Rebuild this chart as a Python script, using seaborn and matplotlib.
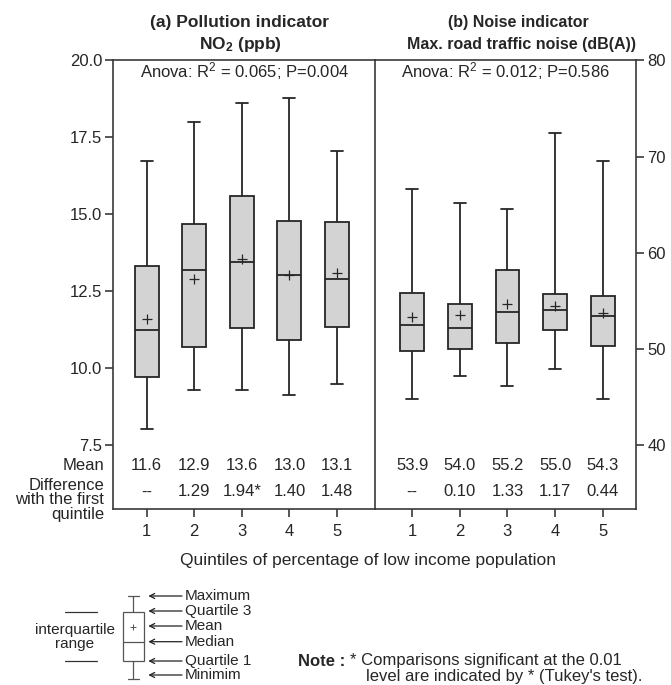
import pandas as pd
import matplotlib
matplotlib.use("Agg")
import matplotlib.pyplot as plt
import seaborn as sns

# Quintiles of percentage of low income population
quintiles = ["1", "2", "3", "4", "5"]

# (a) NO2 (ppb) - box stats
no2_min = [8.02, 9.30, 9.30, 9.14, 9.50]
no2_q1 = [9.71, 10.69, 11.29, 10.92, 11.34]
no2_med = [11.23, 13.19, 13.46, 13.03, 12.90]
no2_q3 = [13.32, 14.67, 15.58, 14.79, 14.74]
no2_max = [16.73, 17.99, 18.63, 18.78, 17.06]
no2_mean_mark = [11.61, 12.89, 13.54, 13.02, 13.10]
no2_mean_txt = ["11.6", "12.9", "13.6", "13.0", "13.1"]
no2_diff_txt = ["--", "1.29", "1.94*", "1.40", "1.48"]

# (b) Max. road traffic noise (dB(A))
noise_min = [44.76, 47.15, 46.14, 47.88, 44.76]
noise_q1 = [49.75, 49.96, 50.65, 51.97, 50.27]
noise_med = [52.45, 52.21, 53.84, 54.01, 53.46]
noise_q3 = [55.85, 54.67, 58.17, 55.75, 55.54]
noise_max = [66.66, 65.21, 64.54, 72.45, 69.57]
noise_mean_mark = [53.35, 53.49, 54.67, 54.50, 53.76]
noise_mean_txt = ["53.9", "54.0", "55.2", "55.0", "54.3"]
noise_diff_txt = ["--", "0.10", "1.33", "1.17", "0.44"]

sns.set_style("ticks")
plt.rcParams["font.family"] = ["Liberation Sans", "DejaVu Sans"]
plt.rcParams["mathtext.fontset"] = "custom"
plt.rcParams["mathtext.rm"] = "Liberation Sans"
plt.rcParams["mathtext.bf"] = "Liberation Sans:bold"
plt.rcParams["mathtext.default"] = "regular"

EDGE = "#3a3a3a"
BOXC = "#262626"
FS = 12


def box_table(mins, q1s, meds, q3s, maxs):
    # 5 points per group -> numpy percentiles hit q1/median/q3 exactly
    rows = []
    for i, q in enumerate(quintiles):
        for v in (mins[i], q1s[i], meds[i], q3s[i], maxs[i]):
            rows.append({"quintile": q, "value": v})
    return pd.DataFrame(rows)


df_no2 = box_table(no2_min, no2_q1, no2_med, no2_q3, no2_max)
df_noise = box_table(noise_min, noise_q1, noise_med, noise_q3, noise_max)

fig = plt.figure(figsize=(6.71, 6.85), dpi=100)
ax1 = fig.add_axes([0.1689, 0.2569, 0.3900, 0.6548])
ax2 = fig.add_axes([0.5589, 0.2569, 0.3890, 0.6548])
ax2.patch.set_visible(False)

panels = [
    (ax1, df_no2, no2_mean_mark, no2_mean_txt, no2_diff_txt, (5.42, 20.0), (-0.70, 4.80)),
    (ax2, df_noise, noise_mean_mark, noise_mean_txt, noise_diff_txt, (33.34, 80.0), (-0.78, 4.70)),
]

for ax, d, mmark, mtxt, dtxt, ylim, xlim in panels:
    sns.boxplot(data=d, x="quintile", y="value", ax=ax, whis=(0, 100),
                width=0.5, color="#d3d3d3", linecolor=BOXC, linewidth=1.3,
                saturation=1, fliersize=0)
    sns.stripplot(x=quintiles, y=mmark, ax=ax, marker="+", size=7,
                  color=BOXC, linewidth=0.9, jitter=False, zorder=5)
    ax.set_ylim(*ylim)
    ax.set_xlim(*xlim)
    ax.set_xlabel("")
    ax.set_ylabel("")
    for s in ax.spines.values():
        s.set_color(EDGE)
        s.set_linewidth(1.2)
        s.set_visible(True)
    ax.tick_params(axis="x", direction="out", length=6, width=1.2,
                   color=EDGE, labelsize=FS, pad=5)
    ax.tick_params(axis="y", direction="out", length=6, width=1.2,
                   color=EDGE, labelsize=FS, pad=2)
    # mean and difference rows inside the frame
    tr = ax.get_xaxis_transform()
    for i in range(len(quintiles)):
        ax.text(i, 0.098, mtxt[i], transform=tr, ha="center", va="center", fontsize=FS)
        ax.text(i, 0.038, dtxt[i], transform=tr, ha="center", va="center", fontsize=FS)

ax1.set_yticks([7.5, 10.0, 12.5, 15.0, 17.5, 20.0])
ax1.set_yticklabels(["7.5", "10.0", "12.5", "15.0", "17.5", "20.0"])
ax1.tick_params(axis="y", right=False)

ax2.spines["left"].set_visible(False)
ax2.yaxis.tick_right()
ax2.set_yticks([40, 50, 60, 70, 80])
ax2.tick_params(axis="y", left=False, right=True, pad=2)

ax1.text(0.5, 0.962, r"Anova: R$^{2}$ = 0.065; P=0.004", transform=ax1.transAxes,
         ha="center", va="baseline", fontsize=FS)
ax2.text(0.5, 0.962, r"Anova: R$^{2}$ = 0.012; P=0.586", transform=ax2.transAxes,
         ha="center", va="baseline", fontsize=FS)

# Titles
H = 685.0
W = 671.0
fig.text(240 / W, 1 - 23 / H, "(a) Pollution indicator", ha="center", va="center",
         fontsize=12.5, fontweight="bold")
fig.text(240 / W, 1 - 45 / H, r"NO$_{\mathbf{2}}$ (ppb)", ha="center", va="center",
         fontsize=12.5, fontweight="bold")
fig.text(518 / W, 1 - 23 / H, "(b) Noise indicator", ha="center", va="center",
         fontsize=11.5, fontweight="bold")
fig.text(636 / W, 1 - 45 / H, "Max. road traffic noise (dB(A))", ha="right", va="center",
         fontsize=11.5, fontweight="bold")

# Row labels
fig.text(104 / W, 1 - 465 / H, "Mean", ha="right", va="center", fontsize=FS)
fig.text(104 / W, 1 - 500 / H, "Difference\nwith the first\nquintile", ha="right",
         va="center", fontsize=FS, multialignment="right", linespacing=0.93)

fig.text(368 / W, 1 - 561 / H, "Quintiles of percentage of low income population",
         ha="center", va="center", fontsize=12.5)

# Key diagram (local pixel coordinates, top of key at y=581 in the figure)
key = fig.add_axes([0, 4 / H, 260 / W, 100 / H])
key.set_xlim(0, 260)
key.set_ylim(100, 0)
key.axis("off")
KC = "#555555"
key.add_patch(plt.Rectangle((122.7, 30.7), 21.3, 49.3, fill=False, ec=KC, lw=0.9))
key.plot([122.7, 144], [60.7, 60.7], color=KC, lw=0.9)
key.plot([133.3, 133.3], [30.7, 15], color=KC, lw=0.9)
key.plot([133.3, 133.3], [80, 98.3], color=KC, lw=0.9)
key.plot([128, 138.6], [15, 15], color=KC, lw=0.9)
key.plot([128, 138.6], [98.3, 98.3], color=KC, lw=0.9)
key.plot([133.3], [45.7], marker="+", color=KC, ms=5, mew=0.7)
key.plot([65, 97.3], [30.7, 30.7], color="#333333", lw=0.9)
key.plot([65, 97.3], [80, 80], color="#333333", lw=0.9)
key.text(75, 49.3, "interquartile", ha="center", va="center", fontsize=11)
key.text(75, 63.3, "range", ha="center", va="center", fontsize=11)
key_labels = ["Maximum", "Quartile 3", "Mean", "Median", "Quartile 1", "Minimim"]
key_y = [15, 30, 45, 60.7, 80, 94]
for lab, yy in zip(key_labels, key_y):
    key.annotate("", xy=(148.3, yy), xytext=(182, yy),
                 arrowprops=dict(arrowstyle="->", color="#222222", lw=0.9,
                                 mutation_scale=9, shrinkA=0, shrinkB=0))
    key.text(185, yy, lab, ha="left", va="center", fontsize=11)

# Note
fig.text(298 / W, 1 - 661 / H, "Note :", ha="left", va="center", fontsize=FS,
         fontweight="bold")
fig.text(350 / W, 1 - 661 / H, "* Comparisons significant at the 0.01", ha="left",
         va="center", fontsize=FS)
fig.text(366 / W, 1 - 676 / H, "level are indicated by * (Tukey's test).", ha="left",
         va="center", fontsize=FS)

fig.savefig("out.png", dpi=100)
